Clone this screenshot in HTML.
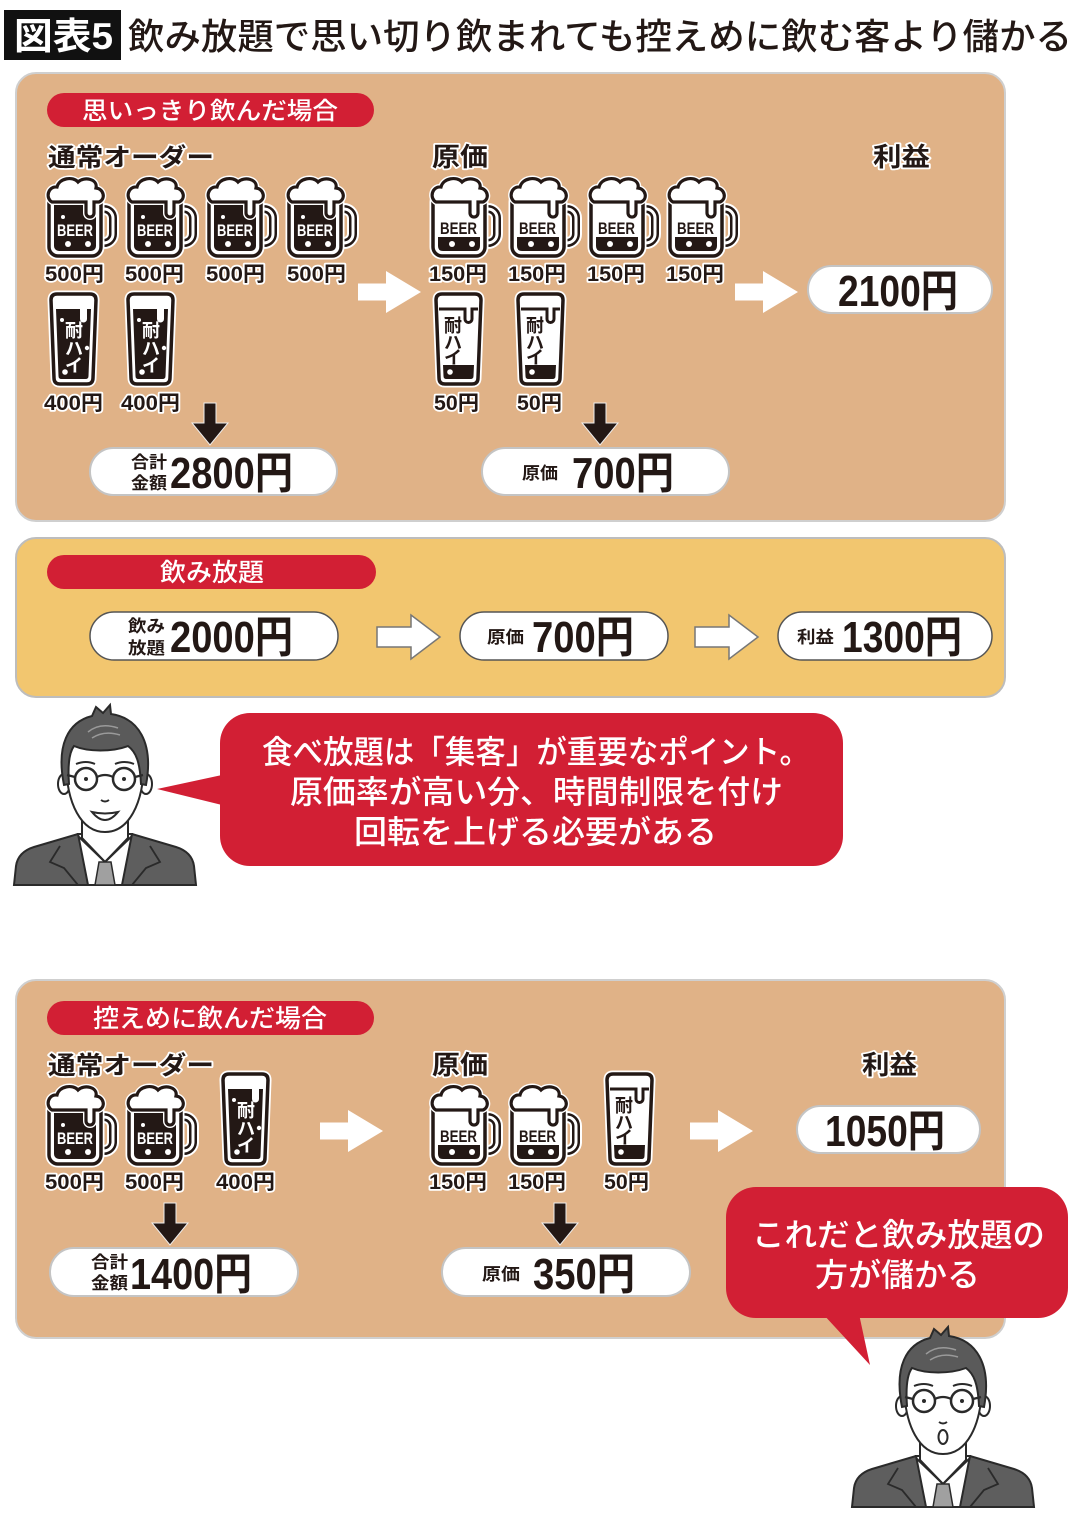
<!DOCTYPE html>
<html><head><meta charset="utf-8"><style>
html,body{margin:0;padding:0;background:#fff;}
svg{display:block;}
text{font-family:"Liberation Sans","Noto Sans CJK JP",sans-serif;}
.lbl{font-weight:700;fill:#231815;stroke:#fff;stroke-width:3.5;paint-order:stroke;stroke-linejoin:round;}
.num{font-weight:700;fill:#231815;}
.sm{font-weight:700;fill:#231815;font-size:17px;}
.wt{fill:#fff;}
.md{font-weight:500;}
</style></head><body>
<svg width="1080" height="1520" viewBox="0 0 1080 1520" xmlns="http://www.w3.org/2000/svg">
<defs>
 <g id="mugBase">
  <path d="M52 32 h4 a9 9 0 0 1 9 9 v16 a9 9 0 0 1 -9 9 h-4" fill="none" stroke="#fff" stroke-width="12"/>
  <path d="M52 32 h4 a9 9 0 0 1 9 9 v16 a9 9 0 0 1 -9 9 h-4" fill="none" stroke="#231815" stroke-width="8"/>
  <path d="M52 32 h4 a9 9 0 0 1 9 9 v16 a9 9 0 0 1 -9 9 h-4" fill="none" stroke="#fff" stroke-width="3"/>
  <rect x="1" y="16" width="52" height="63" rx="9" fill="#fff" stroke="#fff" stroke-width="7"/>
  <rect x="1" y="16" width="52" height="63" rx="9" fill="#fff" stroke="#231815" stroke-width="3.5"/>
 </g>
 <path id="foam" d="M4 25 C-3 21 0 9 9 10 C11 1 25 -1 30 5 C36 -1 50 2 48 11 C56 12 58 22 51 25 L46 25 L46 36 A4 4 0 0 1 38 36 L38 25 Z"/>
 <g id="mugF">
  <use href="#mugBase"/>
  <rect x="6" y="21" width="42" height="53" rx="5" fill="#231815"/>
  <use href="#foam" fill="#fff" stroke="#fff" stroke-width="6"/>
  <use href="#foam" fill="#fff" stroke="#231815" stroke-width="3.2"/>
  <circle cx="15" cy="40" r="2" fill="#fff"/>
  <circle cx="20" cy="67" r="3" fill="#fff"/>
  <circle cx="40" cy="67" r="3" fill="#fff"/>
 </g>
 <g id="mugC">
  <use href="#mugBase"/>
  <path d="M6 60 H48 V69 Q48 74 43 74 H11 Q6 74 6 69 Z" fill="#231815"/>
  <use href="#foam" fill="#fff" stroke="#fff" stroke-width="6"/>
  <use href="#foam" fill="#fff" stroke="#231815" stroke-width="3.2"/>
  <circle cx="20" cy="67" r="3" fill="#fff"/>
  <circle cx="40" cy="67" r="3" fill="#fff"/>
 </g>
 <path id="glass" d="M1 7 Q1 1 7 1 H40 Q46 1 46 7 L43 85 Q43 91 37 91 H10 Q4 91 4 85 Z"/>
 <g id="chuF">
  <use href="#glass" fill="#fff" stroke="#fff" stroke-width="7"/>
  <use href="#glass" fill="#fff" stroke="#231815" stroke-width="3.5"/>
  <path d="M6 16 H30 V26 A3.5 3.5 0 0 0 37 26 V16 H41 L38.5 83 Q38.5 86 35.5 86 H11.5 Q8.5 86 8.5 83 Z" fill="#231815"/>
  <circle cx="12" cy="27" r="2" fill="#fff"/>
  <circle cx="37" cy="55" r="2.2" fill="#fff"/>
  <circle cx="15" cy="79" r="2.8" fill="#fff"/>
 </g>
 <g id="chuC">
  <use href="#glass" fill="#fff" stroke="#fff" stroke-width="7"/>
  <use href="#glass" fill="#fff" stroke="#231815" stroke-width="3.5"/>
  <path d="M4 16 H30 V26 A3.5 3.5 0 0 0 37 26 V16 H43" fill="none" stroke="#231815" stroke-width="3"/>
  <path d="M8 72 H39 L38.5 83 Q38.5 86 35.5 86 H11.5 Q8.5 86 8.5 83 Z" fill="#231815"/>
  <circle cx="15" cy="79" r="2.8" fill="#fff"/>
 </g>
 <path id="wArrow" d="M0 -8.5 H28 V-21 L63 0 L28 21 V8.5 H0 Z"/>
 <path id="oArrow" d="M0 -10 H34 V-22 L63 0 L34 22 V10 H0 Z"/>
 <path id="dArrow" d="M-6 0 H6 V20 H18 L0 42 L-18 20 H-6 Z"/>
 <g id="person">
  <path d="M14 885 L16 866 Q18 852 34 847 L78 834 L132 834 L176 847 Q192 852 194 866 L196 885 Z" fill="#5e5e5e" stroke="#2a2a2a" stroke-width="2"/>
  <path d="M60 846 L50 862 L64 868 L78 885 M150 846 L160 862 L146 868 L132 885" fill="none" stroke="#2a2a2a" stroke-width="1.8"/>
  <path d="M78 834 L132 834 L122 885 L88 885 Z" fill="#fff" stroke="#2a2a2a" stroke-width="2"/>
  <path d="M82 812 L82 838 L105 862 L128 838 L128 812 Z" fill="#fff" stroke="#2a2a2a" stroke-width="2"/>
  <path d="M78 836 L105 862 L132 836" fill="none" stroke="#2a2a2a" stroke-width="2"/>
  <path d="M99 862 L111 862 L115 885 L95 885 Z" fill="#a0a0a0" stroke="#2a2a2a" stroke-width="1.5"/>
  <ellipse cx="64" cy="784" rx="6" ry="10" fill="#fff" stroke="#2a2a2a" stroke-width="2"/>
  <ellipse cx="146" cy="784" rx="6" ry="10" fill="#fff" stroke="#2a2a2a" stroke-width="2"/>
  <path d="M66 760 C66 805 82 832 105 832 C128 832 144 805 144 760 C144 735 128 725 105 725 C82 725 66 735 66 760 Z" fill="#fff" stroke="#2a2a2a" stroke-width="2"/>
  <path d="M64 785 C56 745 68 722 92 716 L96 707 L103 713 L110 705 L111 714 C138 718 154 742 146 785 L141 784 C140 762 136 752 128 746 C112 752 88 752 74 746 C68 754 68 770 69 784 Z" fill="#5a5a5a" stroke="#2a2a2a" stroke-width="2"/>
  <path d="M88 732 Q100 722 118 728 M92 738 Q104 730 120 735" fill="none" stroke="#9a9a9a" stroke-width="1.5"/>
  <circle cx="86" cy="779" r="11" fill="none" stroke="#2a2a2a" stroke-width="2.5"/>
  <circle cx="124" cy="779" r="11" fill="none" stroke="#2a2a2a" stroke-width="2.5"/>
  <path d="M97 777 Q105 773 113 777 M75 777 L67 775 M135 777 L143 775" fill="none" stroke="#2a2a2a" stroke-width="2.2"/>
  <circle cx="86" cy="779" r="2" fill="#2a2a2a"/>
  <circle cx="124" cy="779" r="2" fill="#2a2a2a"/>
  <path d="M76 764 Q86 760 95 764 M115 764 Q124 760 134 764" fill="none" stroke="#2a2a2a" stroke-width="2"/>
  <path d="M101 800 Q105 803 109 800" fill="none" stroke="#2a2a2a" stroke-width="2"/>
 </g>
</defs>

<!-- Header -->
<rect x="4" y="10" width="117" height="50" fill="#111"/>
<text x="14" y="49" font-size="37" font-weight="700" class="wt" textLength="99" lengthAdjust="spacingAndGlyphs">図表5</text>
<text x="128" y="49" font-size="36" fill="#231815" class="md" textLength="944" lengthAdjust="spacingAndGlyphs">飲み放題で思い切り飲まれても控えめに飲む客より儲かる</text>

<!-- Panel 1 -->
<rect x="16" y="73" width="989" height="448" rx="20" fill="#E0B287" stroke="#cfcfcf" stroke-width="2"/>
<rect x="47" y="93" width="327" height="34" rx="17" fill="#D21F34"/>
<text x="82" y="119" font-size="24" class="wt md" textLength="256" lengthAdjust="spacingAndGlyphs">思いっきり飲んだ場合</text>
<text x="48" y="166" font-size="25" class="lbl" textLength="166" lengthAdjust="spacingAndGlyphs">通常オーダー</text>
<text x="432" y="166" font-size="26" class="lbl" textLength="56" lengthAdjust="spacingAndGlyphs">原価</text>
<text x="873" y="166" font-size="26" class="lbl" textLength="57" lengthAdjust="spacingAndGlyphs">利益</text>

<!-- full mugs -->
<g transform="translate(48,177)"><use href="#mugF"/><text x="9" y="59" font-size="17" font-weight="700" class="wt" textLength="36" lengthAdjust="spacingAndGlyphs">BEER</text></g>
<g transform="translate(128,177)"><use href="#mugF"/><text x="9" y="59" font-size="17" font-weight="700" class="wt" textLength="36" lengthAdjust="spacingAndGlyphs">BEER</text></g>
<g transform="translate(208,177)"><use href="#mugF"/><text x="9" y="59" font-size="17" font-weight="700" class="wt" textLength="36" lengthAdjust="spacingAndGlyphs">BEER</text></g>
<g transform="translate(288,177)"><use href="#mugF"/><text x="9" y="59" font-size="17" font-weight="700" class="wt" textLength="36" lengthAdjust="spacingAndGlyphs">BEER</text></g>
<text x="45" y="281" font-size="21" class="lbl" textLength="59" lengthAdjust="spacingAndGlyphs">500円</text>
<text x="125" y="281" font-size="21" class="lbl" textLength="59" lengthAdjust="spacingAndGlyphs">500円</text>
<text x="206" y="281" font-size="21" class="lbl" textLength="59" lengthAdjust="spacingAndGlyphs">500円</text>
<text x="287" y="281" font-size="21" class="lbl" textLength="59" lengthAdjust="spacingAndGlyphs">500円</text>

<!-- full chuhai -->
<g transform="translate(50,293)"><use href="#chuF"/>
 <text x="24" y="44" font-size="18" font-weight="700" class="wt" text-anchor="middle">耐</text>
 <text x="24" y="62" font-size="18" font-weight="700" class="wt" text-anchor="middle">ハ</text>
 <text x="24" y="79" font-size="18" font-weight="700" class="wt" text-anchor="middle">イ</text></g>
<g transform="translate(127,293)"><use href="#chuF"/>
 <text x="24" y="44" font-size="18" font-weight="700" class="wt" text-anchor="middle">耐</text>
 <text x="24" y="62" font-size="18" font-weight="700" class="wt" text-anchor="middle">ハ</text>
 <text x="24" y="79" font-size="18" font-weight="700" class="wt" text-anchor="middle">イ</text></g>
<text x="44" y="410" font-size="21" class="lbl" textLength="59" lengthAdjust="spacingAndGlyphs">400円</text>
<text x="121" y="410" font-size="21" class="lbl" textLength="59" lengthAdjust="spacingAndGlyphs">400円</text>

<!-- cost mugs -->
<g transform="translate(432,177)"><use href="#mugC"/><text x="8" y="57" font-size="17" font-weight="700" fill="#231815" textLength="37" lengthAdjust="spacingAndGlyphs">BEER</text></g>
<g transform="translate(511,177)"><use href="#mugC"/><text x="8" y="57" font-size="17" font-weight="700" fill="#231815" textLength="37" lengthAdjust="spacingAndGlyphs">BEER</text></g>
<g transform="translate(590,177)"><use href="#mugC"/><text x="8" y="57" font-size="17" font-weight="700" fill="#231815" textLength="37" lengthAdjust="spacingAndGlyphs">BEER</text></g>
<g transform="translate(669,177)"><use href="#mugC"/><text x="8" y="57" font-size="17" font-weight="700" fill="#231815" textLength="37" lengthAdjust="spacingAndGlyphs">BEER</text></g>
<text x="429" y="281" font-size="21" class="lbl" textLength="58" lengthAdjust="spacingAndGlyphs">150円</text>
<text x="508" y="281" font-size="21" class="lbl" textLength="58" lengthAdjust="spacingAndGlyphs">150円</text>
<text x="587" y="281" font-size="21" class="lbl" textLength="58" lengthAdjust="spacingAndGlyphs">150円</text>
<text x="666" y="281" font-size="21" class="lbl" textLength="58" lengthAdjust="spacingAndGlyphs">150円</text>

<g transform="translate(435,293)"><use href="#chuC"/>
 <text x="18" y="39" font-size="18" font-weight="700" fill="#231815" text-anchor="middle">耐</text>
 <text x="18" y="56" font-size="18" font-weight="700" fill="#231815" text-anchor="middle">ハ</text>
 <text x="18" y="71" font-size="18" font-weight="700" fill="#231815" text-anchor="middle">イ</text></g>
<g transform="translate(517,293)"><use href="#chuC"/>
 <text x="18" y="39" font-size="18" font-weight="700" fill="#231815" text-anchor="middle">耐</text>
 <text x="18" y="56" font-size="18" font-weight="700" fill="#231815" text-anchor="middle">ハ</text>
 <text x="18" y="71" font-size="18" font-weight="700" fill="#231815" text-anchor="middle">イ</text></g>
<text x="434" y="410" font-size="21" class="lbl" textLength="45" lengthAdjust="spacingAndGlyphs">50円</text>
<text x="517" y="410" font-size="21" class="lbl" textLength="45" lengthAdjust="spacingAndGlyphs">50円</text>

<!-- arrows panel 1 -->
<use href="#wArrow" x="358" y="292" fill="#fff"/>
<use href="#wArrow" x="735" y="292" fill="#fff"/>
<use href="#dArrow" x="210" y="403" fill="#231815" stroke="#eee" stroke-width="1"/>
<use href="#dArrow" x="600" y="403" fill="#231815" stroke="#eee" stroke-width="1"/>

<!-- pills panel 1 -->
<rect x="808" y="266" width="184" height="47" rx="23.5" fill="#fff" stroke="#c4c4c4" stroke-width="2"/>
<text x="838" y="306" font-size="44" class="num" textLength="120" lengthAdjust="spacingAndGlyphs">2100円</text>
<rect x="90" y="448" width="247" height="47" rx="23.5" fill="#fff" stroke="#c4c4c4" stroke-width="2"/>
<text x="131" y="468" class="sm" textLength="36" lengthAdjust="spacingAndGlyphs">合計</text>
<text x="131" y="489" class="sm" textLength="36" lengthAdjust="spacingAndGlyphs">金額</text>
<text x="170" y="488" font-size="44" class="num" textLength="123" lengthAdjust="spacingAndGlyphs">2800円</text>
<rect x="482" y="448" width="247" height="47" rx="23.5" fill="#fff" stroke="#c4c4c4" stroke-width="2"/>
<text x="522" y="479" class="sm" textLength="36" lengthAdjust="spacingAndGlyphs">原価</text>
<text x="572" y="488" font-size="44" class="num" textLength="102" lengthAdjust="spacingAndGlyphs">700円</text>

<!-- Panel 2 -->
<rect x="16" y="538" width="989" height="159" rx="20" fill="#F2C66F" stroke="#bdbdbd" stroke-width="2"/>
<rect x="47" y="555" width="329" height="34" rx="17" fill="#D21F34"/>
<text x="160" y="581" font-size="25" class="wt md" textLength="104" lengthAdjust="spacingAndGlyphs">飲み放題</text>
<rect x="90" y="612" width="248" height="48" rx="24" fill="#fff" stroke="#555" stroke-width="1.5"/>
<text x="128" y="632" class="sm" textLength="37" lengthAdjust="spacingAndGlyphs">飲み</text>
<text x="128" y="654" class="sm" textLength="37" lengthAdjust="spacingAndGlyphs">放題</text>
<text x="170" y="652" font-size="44" class="num" textLength="123" lengthAdjust="spacingAndGlyphs">2000円</text>
<use href="#oArrow" x="377" y="637" fill="#fff" stroke="#777" stroke-width="1.5"/>
<rect x="460" y="612" width="208" height="48" rx="24" fill="#fff" stroke="#555" stroke-width="1.5"/>
<text x="487" y="643" class="sm" textLength="37" lengthAdjust="spacingAndGlyphs">原価</text>
<text x="532" y="652" font-size="44" class="num" textLength="102" lengthAdjust="spacingAndGlyphs">700円</text>
<use href="#oArrow" x="695" y="637" fill="#fff" stroke="#777" stroke-width="1.5"/>
<rect x="778" y="612" width="214" height="48" rx="24" fill="#fff" stroke="#555" stroke-width="1.5"/>
<text x="797" y="643" class="sm" textLength="37" lengthAdjust="spacingAndGlyphs">利益</text>
<text x="842" y="652" font-size="44" class="num" textLength="120" lengthAdjust="spacingAndGlyphs">1300円</text>

<!-- Bubble 1 -->
<path d="M222 775 L157 789 L222 805 Z" fill="#D21F34"/>
<rect x="220" y="713" width="623" height="153" rx="30" fill="#D21F34"/>
<text x="262" y="763" font-size="32" class="wt md" textLength="548" lengthAdjust="spacingAndGlyphs">食べ放題は「集客」が重要なポイント。</text>
<text x="290" y="803" font-size="32" class="wt md" textLength="493" lengthAdjust="spacingAndGlyphs">原価率が高い分、時間制限を付け</text>
<text x="354" y="843" font-size="32" class="wt md" textLength="363" lengthAdjust="spacingAndGlyphs">回転を上げる必要がある</text>

<!-- Person 1 -->
<use href="#person"/>
<path d="M92 812 Q105 828 118 812 Q105 815 92 812 Z" fill="#fff" stroke="#2a2a2a" stroke-width="2"/>

<!-- Panel 3 -->
<rect x="16" y="980" width="989" height="358" rx="20" fill="#E0B287" stroke="#cfcfcf" stroke-width="2"/>
<rect x="47" y="1001" width="327" height="34" rx="17" fill="#D21F34"/>
<text x="93" y="1027" font-size="25" class="wt md" textLength="234" lengthAdjust="spacingAndGlyphs">控えめに飲んだ場合</text>
<text x="48" y="1074" font-size="25" class="lbl" textLength="166" lengthAdjust="spacingAndGlyphs">通常オーダー</text>
<text x="432" y="1074" font-size="26" class="lbl" textLength="56" lengthAdjust="spacingAndGlyphs">原価</text>
<text x="862" y="1074" font-size="26" class="lbl" textLength="55" lengthAdjust="spacingAndGlyphs">利益</text>

<g transform="translate(48,1085)"><use href="#mugF"/><text x="9" y="59" font-size="17" font-weight="700" class="wt" textLength="36" lengthAdjust="spacingAndGlyphs">BEER</text></g>
<g transform="translate(128,1085)"><use href="#mugF"/><text x="9" y="59" font-size="17" font-weight="700" class="wt" textLength="36" lengthAdjust="spacingAndGlyphs">BEER</text></g>
<g transform="translate(222,1073)"><use href="#chuF"/>
 <text x="24" y="44" font-size="18" font-weight="700" class="wt" text-anchor="middle">耐</text>
 <text x="24" y="62" font-size="18" font-weight="700" class="wt" text-anchor="middle">ハ</text>
 <text x="24" y="79" font-size="18" font-weight="700" class="wt" text-anchor="middle">イ</text></g>
<text x="45" y="1189" font-size="21" class="lbl" textLength="59" lengthAdjust="spacingAndGlyphs">500円</text>
<text x="125" y="1189" font-size="21" class="lbl" textLength="59" lengthAdjust="spacingAndGlyphs">500円</text>
<text x="216" y="1189" font-size="21" class="lbl" textLength="59" lengthAdjust="spacingAndGlyphs">400円</text>

<g transform="translate(432,1085)"><use href="#mugC"/><text x="8" y="57" font-size="17" font-weight="700" fill="#231815" textLength="37" lengthAdjust="spacingAndGlyphs">BEER</text></g>
<g transform="translate(511,1085)"><use href="#mugC"/><text x="8" y="57" font-size="17" font-weight="700" fill="#231815" textLength="37" lengthAdjust="spacingAndGlyphs">BEER</text></g>
<g transform="translate(606,1073)"><use href="#chuC"/>
 <text x="18" y="39" font-size="18" font-weight="700" fill="#231815" text-anchor="middle">耐</text>
 <text x="18" y="56" font-size="18" font-weight="700" fill="#231815" text-anchor="middle">ハ</text>
 <text x="18" y="71" font-size="18" font-weight="700" fill="#231815" text-anchor="middle">イ</text></g>
<text x="429" y="1189" font-size="21" class="lbl" textLength="58" lengthAdjust="spacingAndGlyphs">150円</text>
<text x="508" y="1189" font-size="21" class="lbl" textLength="58" lengthAdjust="spacingAndGlyphs">150円</text>
<text x="604" y="1189" font-size="21" class="lbl" textLength="45" lengthAdjust="spacingAndGlyphs">50円</text>

<use href="#wArrow" x="320" y="1131" fill="#fff"/>
<use href="#wArrow" x="690" y="1131" fill="#fff"/>
<use href="#dArrow" x="170" y="1203" fill="#231815" stroke="#eee" stroke-width="1"/>
<use href="#dArrow" x="560" y="1203" fill="#231815" stroke="#eee" stroke-width="1"/>

<rect x="797" y="1106" width="183" height="47" rx="23.5" fill="#fff" stroke="#c4c4c4" stroke-width="2"/>
<text x="825" y="1146" font-size="44" class="num" textLength="120" lengthAdjust="spacingAndGlyphs">1050円</text>
<rect x="50" y="1248" width="248" height="48" rx="24" fill="#fff" stroke="#c4c4c4" stroke-width="2"/>
<text x="91" y="1268" class="sm" textLength="37" lengthAdjust="spacingAndGlyphs">合計</text>
<text x="91" y="1289" class="sm" textLength="37" lengthAdjust="spacingAndGlyphs">金額</text>
<text x="130" y="1289" font-size="44" class="num" textLength="122" lengthAdjust="spacingAndGlyphs">1400円</text>
<rect x="442" y="1248" width="248" height="48" rx="24" fill="#fff" stroke="#c4c4c4" stroke-width="2"/>
<text x="482" y="1280" class="sm" textLength="38" lengthAdjust="spacingAndGlyphs">原価</text>
<text x="533" y="1289" font-size="44" class="num" textLength="102" lengthAdjust="spacingAndGlyphs">350円</text>

<!-- Bubble 2 -->
<path d="M823 1314 L870 1365 L859 1314 Z" fill="#D21F34"/>
<rect x="726" y="1187" width="342" height="131" rx="30" fill="#D21F34"/>
<text x="752" y="1246" font-size="32" class="wt md" textLength="293" lengthAdjust="spacingAndGlyphs">これだと飲み放題の</text>
<text x="815" y="1286" font-size="32" class="wt md" textLength="165" lengthAdjust="spacingAndGlyphs">方が儲かる</text>

<!-- Person 2 -->
<g transform="translate(838,622)">
 <use href="#person"/>
 <ellipse cx="105" cy="815" rx="4.5" ry="7" fill="#fff" stroke="#2a2a2a" stroke-width="2"/>
</g>
</svg>
</body></html>
